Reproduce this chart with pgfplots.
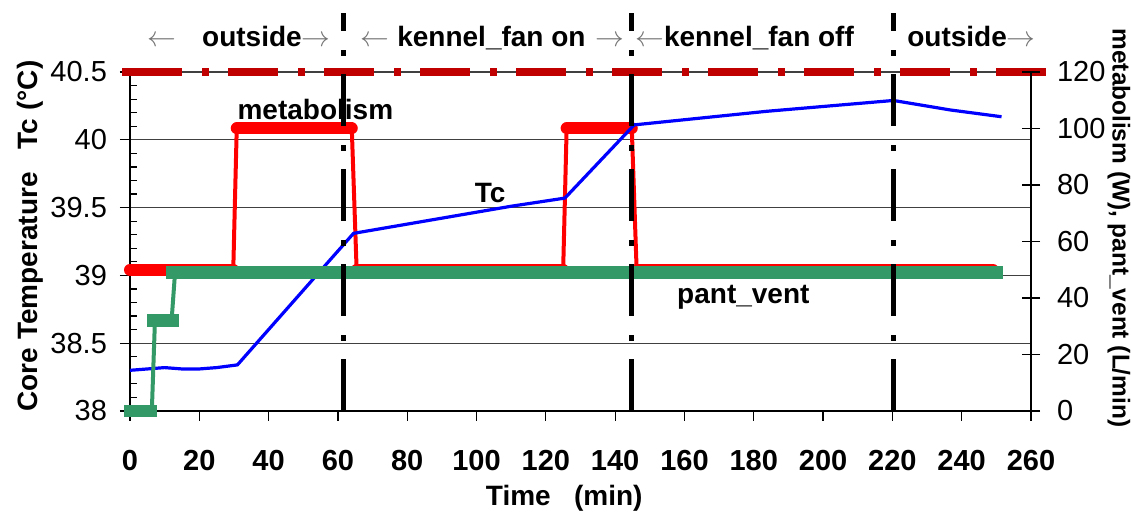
\documentclass[border=0pt]{standalone}
\usepackage{fontspec}
\setmainfont{Liberation Sans}
\usepackage{pgfplots}
\pgfplotsset{compat=1.18}
\definecolor{tcblue}{RGB}{0,0,255}
\definecolor{metred}{RGB}{255,0,0}
\definecolor{pvgreen}{RGB}{51,153,102}
\definecolor{dred}{RGB}{192,0,0}
\newcommand{\arr}[1]{\textcolor{black!55}{$#1$}}
\begin{document}
\begin{tikzpicture}[font=\fontsize{14}{16.8}\selectfont]
\pgfplotsset{
  rightscale/.style={y filter/.expression={38+y/48}},
  metthin/.style={metred, line width=2pt, line join=round},
  metthick/.style={metred, line width=6pt, line cap=round},
  pvthin/.style={pvgreen, line width=2pt},
  pvthick/.style={pvgreen, line width=6.2pt, line cap=rect},
  divider/.style={black, line width=2.5pt, dash pattern=on 26pt off 9pt on 3pt off 9.5pt},
}
\begin{axis}[
  scale only axis, width=450.5pt, height=169.5pt,
  xmin=0, xmax=260, ymin=38, ymax=40.5,
  clip=false,
  axis x line*=bottom, axis y line*=left,
  axis line style={black, line width=0.7pt},
  xtick={0,20,...,260}, ytick={38,38.5,...,40.5},
  minor y tick num=4,
  tick align=outside,
  major tick length=5pt, minor tick length=3.4pt,
  minor y tick style={xshift=3.4pt},
  tick style={black, line width=0.6pt},
  ymajorgrids, grid style={black!75, line width=0.6pt},
  /pgf/number format/assume math mode=true,
  yticklabel style={font=\fontsize{14.5}{17}\selectfont, xshift=-3pt},
  xticklabel style={font=\fontsize{14.5}{17}\selectfont\bfseries, yshift=-11pt},
  xlabel={\textbf{Time\ \ \ (min)}},
  xlabel style={at={(axis description cs:0.482,-0.258)}, anchor=center},
  ylabel={\textbf{Core Temperature\ \ \ Tc (°C)}},
  ylabel style={at={(axis description cs:-0.111,0.516)}, anchor=center},
]
\coordinate (bl) at (rel axis cs:0,0);
% top dash-dot reference line (right scale, 120)
\addplot[dred, line width=3.6pt, rightscale] coordinates {(-2.3,120) (0.6,120)};
\addplot[dred, line width=3.6pt, dash pattern=on 25pt off 10pt on 3.5pt off 9.5pt, rightscale] coordinates {(0.6,120) (264.6,120)};
% metabolism (W), right scale
\addplot[metthin, rightscale] coordinates {(0,50) (29.8,50) (30.8,100) (64,100) (65.4,50) (125,50) (126,100) (144.8,100) (146.2,50) (249,50)};
\addplot[metthick, rightscale] coordinates {(0,50) (29.8,50)};
\addplot[metthick, rightscale] coordinates {(30.8,100) (64,100)};
\addplot[metthick, rightscale] coordinates {(65.4,50) (125,50)};
\addplot[metthick, rightscale] coordinates {(126,100) (144.8,100)};
\addplot[metthick, rightscale] coordinates {(146.2,50) (249,50)};
% Tc (left scale)
\addplot[tcblue, line width=1.6pt, line join=round] coordinates {
(0,38.30) (5,38.31) (10,38.32) (15,38.31) (20,38.31) (25,38.32) (31,38.34)
(64.5,39.31) (110,39.51) (125.5,39.57) (145.5,40.11)
(183.7,40.21) (220.3,40.29) (236.7,40.22) (251.5,40.17)};
% pant_vent (L/min), right scale
\addplot[pvthin, rightscale] coordinates {(0,0) (6.3,0) (7.2,32) (12,32) (13,49) (250,49)};
\addplot[pvthick, rightscale] coordinates {(0,0) (6,0)};
\addplot[pvthick, rightscale] coordinates {(6.8,32) (12.3,32)};
\addplot[pvthick, rightscale] coordinates {(12.3,49) (250,49)};
% phase dividers
\addplot[divider] coordinates {(61.5,38) (61.5,40.935)};
\addplot[divider] coordinates {(144.7,38) (144.7,40.935)};
\addplot[divider] coordinates {(220.2,38) (220.2,40.935)};
% labels
\node[anchor=base, font=\fontsize{14}{16.8}\selectfont\bfseries] at (axis cs:53.5,40.146) {metabolism};
\node[anchor=base, font=\fontsize{14}{16.8}\selectfont\bfseries] at (axis cs:103.9,39.534) {Tc};
\node[anchor=base, font=\fontsize{14}{16.8}\selectfont\bfseries] at (axis cs:177,38.794) {pant\_vent};
\node[anchor=base west, inner sep=0pt, font=\fontsize{14}{16.8}\selectfont\bfseries] at (axis cs:4.9,40.689) {\arr{\leftarrow}\hspace{13pt}outside\arr{\rightarrow}};
\node[anchor=base west, inner sep=0pt, font=\fontsize{14}{16.8}\selectfont\bfseries] at (axis cs:66.4,40.689) {\arr{\leftarrow}\hspace{4pt}kennel\_fan on\hspace{5pt}\arr{\rightarrow}};
\node[anchor=base west, inner sep=0pt, font=\fontsize{14}{16.8}\selectfont\bfseries] at (axis cs:145.7,40.689) {\arr{\leftarrow}kennel\_fan off};
\node[anchor=base west, inner sep=0pt, font=\fontsize{14}{16.8}\selectfont\bfseries] at (axis cs:224.2,40.689) {outside\arr{\rightarrow}};
\end{axis}
\begin{axis}[
  scale only axis, width=450.5pt, height=169.5pt,
  xmin=0, xmax=260, ymin=0, ymax=120,
  axis x line=none, axis y line*=right,
  axis line style={black, line width=0.7pt},
  ytick={0,20,...,120}, tick align=center, major tick length=9pt,
  tick style={black, line width=0.6pt},
  /pgf/number format/assume math mode=true,
  yticklabel style={font=\fontsize{14.5}{17}\selectfont, anchor=west, xshift=5pt},
  ylabel={\textbf{metabolism (W), pant\_vent (L/min)}},
  ylabel style={font=\fontsize{12.2}{14}\selectfont, at={(axis description cs:1.0975,0.54)}, anchor=center, rotate=180},
]
\end{axis}
\pgfresetboundingbox
\path ([shift={(-65pt,-50.5pt)}]bl) rectangle ++(565.5pt,256pt);
\end{tikzpicture}
\end{document}
